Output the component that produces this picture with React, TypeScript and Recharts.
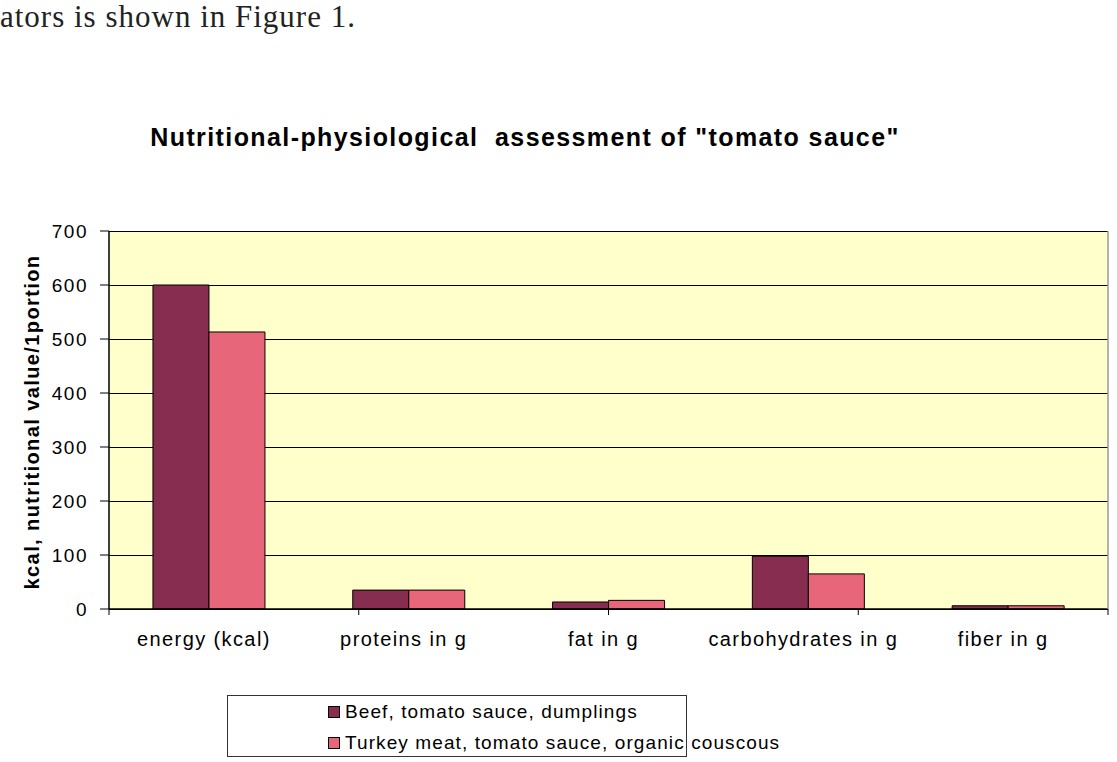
import React from 'react';
import { BarChart, Bar, XAxis, YAxis, CartesianGrid } from 'recharts';

const categories = ['energy (kcal)', 'proteins in g', 'fat in g', 'carbohydrates in g', 'fiber in g'];
const beefValues = [600, 35, 13, 98, 6];
const turkeyValues = [513, 35, 16, 65, 6];
const seriesNames = ['Beef, tomato sauce, dumplings', 'Turkey meat, tomato sauce, organic couscous'];
const seriesColors = ['#862D50', '#E8667A'];
const yTicks = [0, 100, 200, 300, 400, 500, 600, 700];
const boundaryTicks = [0, 1, 2, 3, 4, 5];
const chartTitle = 'Nutritional-physiological  assessment of "tomato sauce"';
const yAxisTitle = 'kcal, nutritional value/1portion';
const introText = 'ators is shown in Figure 1.';

const data = categories.map((c, i) => ({ category: c, beef: beefValues[i], turkey: turkeyValues[i] }));

const FONT = '"Liberation Sans", Arial, sans-serif';

const YLabel = (props: any) => {
  const vb = props.viewBox || {};
  const cy = (vb.y || 0) + (vb.height || 0) / 2;
  return (
    <text
      x={0}
      y={0}
      transform={`translate(39, ${cy + 2}) rotate(-90)`}
      textAnchor="middle"
      fontFamily={FONT}
      fontWeight="bold"
      fontSize={20}
      fill="#000"
      letterSpacing={1.4}
    >
      {yAxisTitle}
    </text>
  );
};

export default function App() {
  return (
    <div style={{ position: 'absolute', left: 0, top: 0, width: 1117, height: 762, background: '#fff', overflow: 'hidden' }}>
      <div
        style={{
          position: 'absolute',
          left: 0,
          top: -1,
          fontFamily: '"Liberation Serif", "DejaVu Serif", serif',
          fontSize: 31,
          color: '#222',
          whiteSpace: 'nowrap',
          letterSpacing: 1,
        }}
      >
        {introText}
      </div>
      <div
        style={{
          position: 'absolute',
          left: 0,
          width: 1050,
          top: 123,
          textAlign: 'center',
          fontFamily: FONT,
          fontWeight: 'bold',
          fontSize: 25,
          color: '#000',
          whiteSpace: 'pre',
          letterSpacing: 1.4,
        }}
      >
        {chartTitle}
      </div>
      <div style={{ position: 'absolute', left: 0, top: 0 }}>
        <BarChart
          width={1117}
          height={762}
          data={data}
          margin={{ top: 231, right: 8, bottom: 151, left: 0 }}
          barCategoryGap="22%"
          barGap={0}
        >
          <CartesianGrid
            xAxisId="cat"
            yAxisId="left"
            vertical={false}
            stroke="#000"
            strokeWidth={1}
            fill="#FFFFCC"
            fillOpacity={1}
            shapeRendering="crispEdges"
          />
          <XAxis
            xAxisId="cat"
            dataKey="category"
            height={1}
            tickLine={false}
            axisLine={false}
            tickSize={0}
            tickMargin={22}
            interval={0}
            tick={{ fontFamily: FONT, fontSize: 20, fill: '#000', letterSpacing: 1.4, dx: -5 } as any}
          />
          <XAxis
            xAxisId="bound"
            type="number"
            domain={[0, 5]}
            ticks={boundaryTicks}
            interval={0}
            height={1}
            tickSize={6}
            tickLine={{ stroke: '#000' }}
            axisLine={{ stroke: '#000', strokeWidth: 1.5 }}
            tick={() => <g />}
            allowDataOverflow
          />
          <YAxis
            yAxisId="left"
            width={109}
            domain={[0, 700]}
            ticks={yTicks}
            interval={0}
            tickSize={9}
            tickMargin={12}
            tickLine={{ stroke: '#000' }}
            axisLine={{ stroke: '#000', strokeWidth: 1.5 }}
            tick={{ fontFamily: FONT, fontSize: 19, fill: '#000', letterSpacing: 1.5 } as any}
            label={<YLabel />}
          />
          <YAxis
            yAxisId="right"
            orientation="right"
            width={1}
            domain={[0, 700]}
            tick={false}
            tickLine={false}
            axisLine={{ stroke: '#999', strokeWidth: 1.5 }}
          />
          <Bar
            xAxisId="cat"
            yAxisId="left"
            dataKey="beef"
            name={seriesNames[0]}
            fill={seriesColors[0]}
            stroke="#000"
            strokeWidth={1}
            isAnimationActive={false}
          />
          <Bar
            xAxisId="cat"
            yAxisId="left"
            dataKey="turkey"
            name={seriesNames[1]}
            fill={seriesColors[1]}
            stroke="#000"
            strokeWidth={1}
            isAnimationActive={false}
          />
        </BarChart>
      </div>
      <div
        style={{
          position: 'absolute',
          left: 227,
          top: 695,
          width: 460,
          height: 62,
          border: '1.5px solid #333',
          boxSizing: 'border-box',
          background: '#fff',
        }}
      >
        {seriesNames.map((name, i) => (
          <div
            key={name}
            style={{
              position: 'absolute',
              left: 100,
              top: 5 + i * 31,
              height: 22,
              display: 'flex',
              alignItems: 'center',
              whiteSpace: 'nowrap',
              fontFamily: FONT,
              fontSize: 19,
              color: '#000',
              letterSpacing: 1.1,
            }}
          >
            <span
              style={{
                display: 'inline-block',
                width: 10,
                height: 10,
                background: seriesColors[i],
                border: '1px solid #000',
                marginRight: 5,
              }}
            />
            {name}
          </div>
        ))}
      </div>
    </div>
  );
}
